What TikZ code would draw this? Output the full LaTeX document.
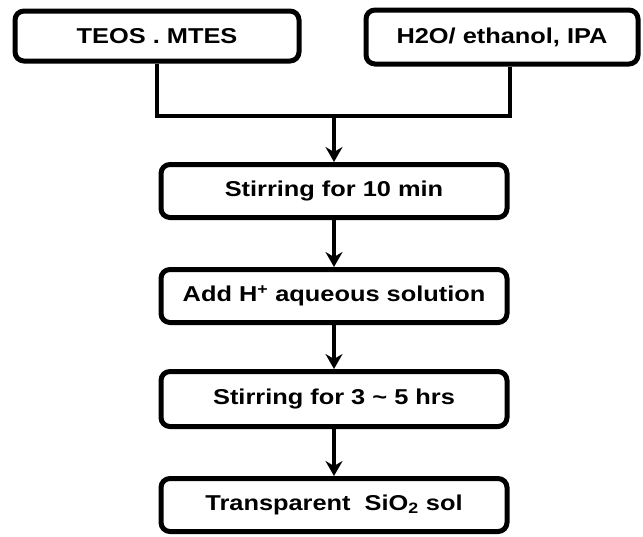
\documentclass[tikz,border=0pt]{standalone}
\usepackage{fontspec}
\setmainfont[FakeStretch=1.18]{Liberation Sans}
\usetikzlibrary{arrows.meta}

\begin{document}
\begin{tikzpicture}[x=1pt, y=1pt,
    procbox/.style={draw, line width=5pt, rounded corners=9pt,
      minimum width=346pt, minimum height=53pt, inner sep=0pt,
      font=\fontsize{21.5}{25}\selectfont\bfseries},
    flow/.style={line width=4.2pt, -{Stealth[length=15pt, width=17pt, inset=5pt]}}]
  \useasboundingbox (0,0) rectangle (643,-536);
  % starting materials
  \node[procbox, minimum width=284pt, minimum height=50pt] (teos) at (157,-36) {TEOS . MTES};
  \node[procbox, minimum width=272pt, minimum height=54pt] (solvent) at (502,-37) {H2O/ ethanol, IPA};
  % process steps
  \node[procbox] (stir1) at (334,-191) {Stirring for 10 min};
  \node[procbox] (acid) at (334,-296) {Add H\textsuperscript{+} aqueous solution};
  \node[procbox, minimum height=55pt] (stir2) at (334,-399) {Stirring for 3 \textasciitilde\ 5 hrs};
  \node[procbox] (sol) at (334,-505) {Transparent\ \ SiO\textsubscript{2} sol};
  \coordinate (join) at (334,-116);
  \draw[line width=4.2pt] (teos.south) |- (join) -| ([xshift=8pt]solvent.south);
  \draw[flow] (join) -- (stir1);
  \draw[flow] (stir1) -- (acid);
  \draw[flow] (acid) -- (stir2);
  \draw[flow] (stir2) -- (sol);
\end{tikzpicture}
\end{document}
